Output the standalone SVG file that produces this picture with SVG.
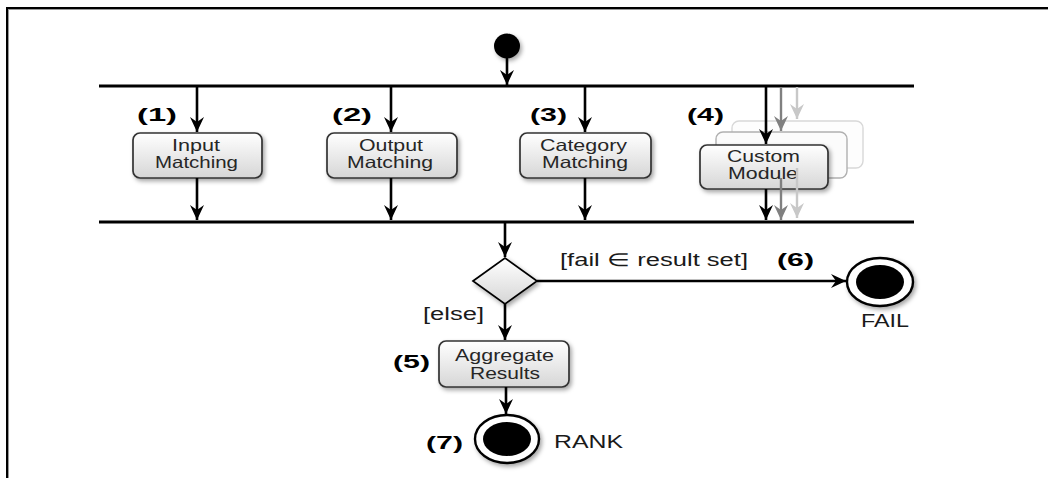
<svg xmlns="http://www.w3.org/2000/svg" width="1048" height="478" viewBox="0 0 1048 478">
<defs>
<linearGradient id="boxg" x1="0" y1="0" x2="0" y2="1">
<stop offset="0" stop-color="#ffffff"/>
<stop offset="1" stop-color="#d6d6d6"/>
</linearGradient>
<filter id="sh" x="-20%" y="-20%" width="140%" height="150%">
<feDropShadow dx="2" dy="2.5" stdDeviation="2" flood-color="#000" flood-opacity="0.35"/>
</filter>
<marker id="ah" markerUnits="userSpaceOnUse" markerWidth="16" markerHeight="16" viewBox="0 0 16 16" refX="15" refY="8" orient="auto">
<path d="M0,1 L15,8 L0,15 L5,8 z" fill="#000"/>
</marker>
<marker id="ahg" markerUnits="userSpaceOnUse" markerWidth="16" markerHeight="16" viewBox="0 0 16 16" refX="15" refY="8" orient="auto">
<path d="M0,1 L15,8 L0,15 L5,8 z" fill="#808080"/>
</marker>
<marker id="ahl" markerUnits="userSpaceOnUse" markerWidth="16" markerHeight="16" viewBox="0 0 16 16" refX="15" refY="8" orient="auto">
<path d="M0,1 L15,8 L0,15 L5,8 z" fill="#c8c8c8"/>
</marker>
</defs>
<style>
.box{fill:url(#boxg);stroke:#333;stroke-width:1.7;filter:url(#sh)}
.ghost1{fill:#fbfbfb;stroke:#b0b0b0;stroke-width:1.4}
.ghost2{fill:#fdfdfd;stroke:#d8d8d8;stroke-width:1.4}
.bt{font-family:"Liberation Sans",Arial,sans-serif;font-size:16.5px;fill:#262626}
.num{font-family:"Liberation Sans",Arial,sans-serif;font-size:18px;font-weight:bold;fill:#000}
.lbl{font-family:"Liberation Sans",Arial,sans-serif;font-size:17.5px;fill:#1a1a1a}
.bar{stroke:#000;stroke-width:3}
.c{stroke:#000;stroke-width:2.6;fill:none;marker-end:url(#ah)}
.cg{stroke:#808080;stroke-width:2.4;fill:none;marker-end:url(#ahg)}
.cl{stroke:#c8c8c8;stroke-width:2.4;fill:none;marker-end:url(#ahl)}
</style>

<g id="frame">
<line x1="7" y1="9.5" x2="1048" y2="9.5" stroke="#999" stroke-width="1"/>
<line x1="8.5" y1="9" x2="8.5" y2="478" stroke="#999" stroke-width="1"/>
<line x1="6" y1="8" x2="1048" y2="8" stroke="#000" stroke-width="2"/>
<line x1="7" y1="7" x2="7" y2="478" stroke="#000" stroke-width="2"/>
</g>

<g id="initial">
<ellipse cx="507" cy="46" rx="13" ry="12.5" fill="#000" filter="url(#sh)"/>
</g>

<g id="fork">
<line class="bar" x1="99" y1="86" x2="914" y2="86"/>
</g>
<g id="join">
<line class="bar" x1="99" y1="222" x2="914" y2="222"/>
</g>

<g id="input-matching">
<rect class="box" x="133" y="133" width="129" height="45" rx="7"/>
<text class="num" x="137" y="121" textLength="40" lengthAdjust="spacingAndGlyphs">(1)</text>
<text class="bt" x="172" y="151" textLength="48" lengthAdjust="spacingAndGlyphs">Input</text>
<text class="bt" x="155" y="168" textLength="83" lengthAdjust="spacingAndGlyphs">Matching</text>
</g>

<g id="output-matching">
<rect class="box" x="327" y="133" width="130" height="45" rx="7"/>
<text class="num" x="332" y="121" textLength="40" lengthAdjust="spacingAndGlyphs">(2)</text>
<text class="bt" x="359" y="151" textLength="64" lengthAdjust="spacingAndGlyphs">Output</text>
<text class="bt" x="347" y="168" textLength="86" lengthAdjust="spacingAndGlyphs">Matching</text>
</g>

<g id="category-matching">
<rect class="box" x="520" y="133" width="131" height="45" rx="7"/>
<text class="num" x="530" y="121" textLength="37" lengthAdjust="spacingAndGlyphs">(3)</text>
<text class="bt" x="540" y="151" textLength="87" lengthAdjust="spacingAndGlyphs">Category</text>
<text class="bt" x="542" y="168" textLength="86" lengthAdjust="spacingAndGlyphs">Matching</text>
</g>

<g id="custom-module">
<rect class="ghost2" x="732" y="121" width="131" height="47" rx="7"/>
<rect class="ghost1" x="716" y="132" width="131" height="46" rx="7"/>
<rect class="box" x="700" y="145" width="128" height="44" rx="7"/>
<text class="num" x="687" y="121" textLength="37" lengthAdjust="spacingAndGlyphs">(4)</text>
<text class="bt" x="727" y="162" textLength="73" lengthAdjust="spacingAndGlyphs">Custom</text>
<text class="bt" x="728" y="179" textLength="70" lengthAdjust="spacingAndGlyphs">Module</text>
</g>

<g id="decision">
<polygon points="473,281 505,258 537,281 505,304" fill="url(#boxg)" stroke="#000" stroke-width="1.7" filter="url(#sh)"/>
</g>

<g id="aggregate-results">
<rect class="box" x="439" y="341" width="130" height="46" rx="7"/>
<text class="num" x="393" y="368" textLength="37" lengthAdjust="spacingAndGlyphs">(5)</text>
<text class="bt" x="455" y="361" textLength="99" lengthAdjust="spacingAndGlyphs">Aggregate</text>
<text class="bt" x="470" y="379" textLength="70" lengthAdjust="spacingAndGlyphs">Results</text>
</g>

<g id="fail">
<ellipse cx="880" cy="282" rx="33" ry="24" fill="#fff" stroke="#000" stroke-width="2.4" filter="url(#sh)"/>
<ellipse cx="880" cy="282" rx="24" ry="17" fill="#000"/>
<text class="num" x="777" y="266" textLength="37" lengthAdjust="spacingAndGlyphs">(6)</text>
<text class="lbl" x="861" y="327" textLength="48" lengthAdjust="spacingAndGlyphs">FAIL</text>
</g>

<g id="rank">
<ellipse cx="507" cy="439" rx="32" ry="24" fill="#fff" stroke="#000" stroke-width="2.4" filter="url(#sh)"/>
<ellipse cx="507" cy="439" rx="24" ry="17" fill="#000"/>
<text class="num" x="426" y="449" textLength="37" lengthAdjust="spacingAndGlyphs">(7)</text>
<text class="lbl" x="554" y="448" textLength="69" lengthAdjust="spacingAndGlyphs">RANK</text>
</g>

<g id="connectors">
<line class="c" x1="507" y1="58" x2="507" y2="85"/>
<line class="c" x1="197" y1="87" x2="197" y2="132"/>
<line class="c" x1="391" y1="87" x2="391" y2="132"/>
<line class="c" x1="585" y1="87" x2="585" y2="132"/>
<line class="cl" x1="797" y1="87" x2="797" y2="119"/>
<line class="cg" x1="781" y1="87" x2="781" y2="131"/>
<line class="c" x1="766" y1="87" x2="766" y2="144"/>
<line class="c" x1="197" y1="178" x2="197" y2="220"/>
<line class="c" x1="391" y1="178" x2="391" y2="220"/>
<line class="c" x1="585" y1="178" x2="585" y2="220"/>
<line class="cl" x1="797" y1="168" x2="797" y2="218"/>
<line class="cg" x1="781" y1="178" x2="781" y2="220"/>
<line class="c" x1="766" y1="189" x2="766" y2="220"/>
<line class="c" x1="505" y1="223" x2="505" y2="257"/>
<line class="c" x1="537" y1="281" x2="846" y2="281"/>
<line class="c" x1="505" y1="304" x2="505" y2="340"/>
<line class="c" x1="506" y1="387" x2="506" y2="414"/>
<text class="lbl" x="560" y="266" textLength="188" lengthAdjust="spacingAndGlyphs">[fail ∈ result set]</text>
<text class="lbl" x="423" y="320" textLength="61" lengthAdjust="spacingAndGlyphs">[else]</text>
</g>
</svg>
